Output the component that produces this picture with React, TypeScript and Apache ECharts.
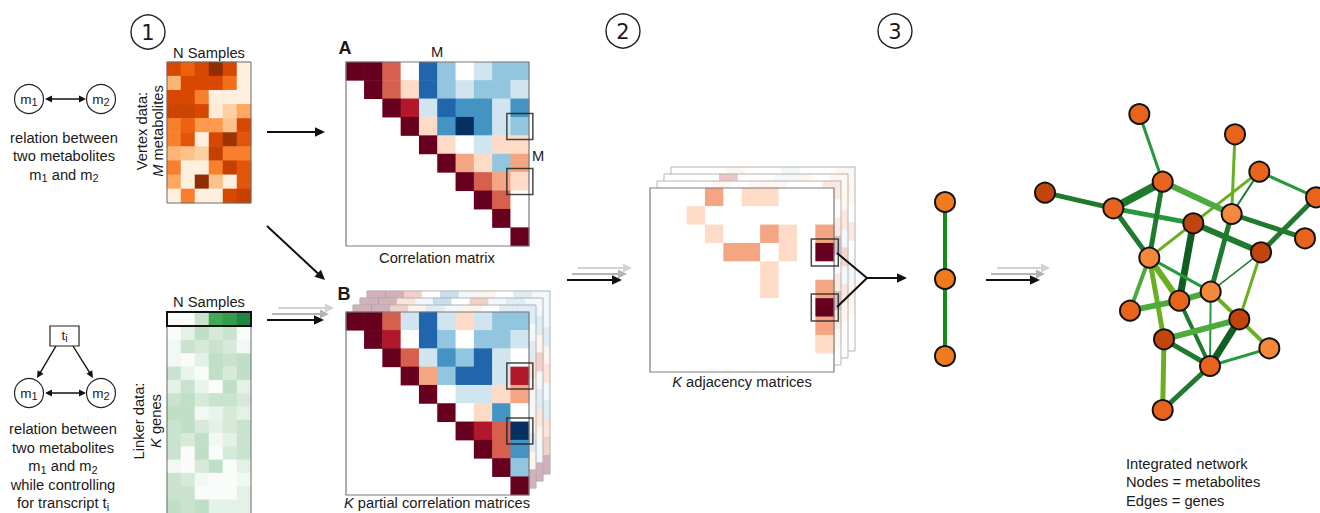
import React, { useEffect, useRef } from "react";
import * as echarts from "echarts";

// ---------------- DATA ----------------
const sampleLabels = ["S1", "S2", "S3", "S4", "S5", "S6"];
const metaboliteLabels = ["M1", "M2", "M3", "M4", "M5", "M6", "M7", "M8", "M9", "M10"];
const geneLabels = ["G1", "G2", "G3", "G4", "G5", "G6", "G7", "G8", "G9", "G10", "G11", "G12", "G13", "G14"];
const headerLabels = ["t"];

// vertex data (metabolites x samples), 0..1 intensity
const vertexValues: number[][] = [
  [0.75, 0.65, 0.75, 0.95, 0.75, 0.05],
  [0.35, 0.75, 0.75, 0.75, 0.6, 0.05],
  [0.75, 0.75, 0.55, 0.05, 0.05, 0.05],
  [0.78, 0.78, 0.75, 0.08, 0.25, 0.4],
  [0.55, 0.65, 0.45, 0.45, 0.3, 0.75],
  [0.55, 0.7, 0.05, 0.75, 0.9, 0.7],
  [0.35, 0.3, 0.25, 0.8, 0.55, 0.55],
  [0.55, 0.05, 0.05, 0.55, 0.8, 0.7],
  [0.4, 0.05, 0.95, 0.3, 0.05, 0.7],
  [0.05, 0.55, 0.05, 0.05, 0.75, 0.8],
];

// linker data: highlighted transcript row + genes x samples
const linkerHeaderValues: number[] = [0.02, 0.02, 0.2, 0.65, 0.75, 0.9];
const linkerValues: number[][] = [
  [0.02, 0.1, 0.25, 0.15, 0.2, 0.02],
  [0.05, 0.2, 0.15, 0.2, 0.15, 0.05],
  [0.05, 0.02, 0.1, 0.25, 0.2, 0.25],
  [0.2, 0.08, 0.02, 0.25, 0.15, 0.25],
  [0.1, 0.2, 0.08, 0.02, 0.25, 0.1],
  [0.2, 0.25, 0.15, 0.2, 0.2, 0.15],
  [0.25, 0.25, 0.05, 0.08, 0.15, 0.1],
  [0.2, 0.25, 0.15, 0.1, 0.15, 0.2],
  [0.2, 0.15, 0.25, 0.05, 0.1, 0.2],
  [0.2, 0.02, 0.25, 0.02, 0.15, 0.2],
  [0.05, 0.02, 0.15, 0.25, 0.02, 0.1],
  [0.2, 0.15, 0.05, 0.02, 0.02, 0.05],
  [0.2, 0.2, 0.02, 0.02, 0.02, 0.1],
  [0.25, 0.2, 0.25, 0.1, 0.1, 0.1],
];

const n = null;
// correlation matrix (upper triangle), -1..1
const correlationValues: (number | null)[][] = [
  [1, 1, 0.6, 0, -0.8, -0.4, 0, -0.2, -0.4, -0.4],
  [n, 1, 0.6, 0.2, -0.8, -0.4, -0.2, -0.4, -0.4, -0.2],
  [n, n, 1, 0.8, -0.2, -0.8, -0.6, -0.6, -0.2, -0.6],
  [n, n, n, 1, 0.2, -0.6, -1, -0.6, -0.2, -0.4],
  [n, n, n, n, 1, 0.2, 0, -0.2, 0.2, 0.2],
  [n, n, n, n, n, 1, 0.4, 0.2, -0.4, 0.4],
  [n, n, n, n, n, n, 1, 0.6, 0.4, 0.2],
  [n, n, n, n, n, n, n, 1, 0.6, 0],
  [n, n, n, n, n, n, n, n, 1, 0],
  [n, n, n, n, n, n, n, n, n, 1],
];

// partial correlation matrix (front one)
const partialValues: (number | null)[][] = [
  [1, 1, 0.6, -0.2, -0.8, -0.2, 0.2, -0.2, -0.4, -0.4],
  [n, 1, 0.8, 0, -0.8, -0.4, 0, -0.4, -0.4, -0.2],
  [n, n, 1, 0.6, -0.2, -0.6, -0.4, -0.8, -0.2, 0],
  [n, n, n, 1, 0.4, -0.4, -0.8, -0.8, -0.2, 0.8],
  [n, n, n, n, 1, 0, -0.2, -0.2, 0.2, 0.4],
  [n, n, n, n, n, 1, 0, 0.2, -0.6, 0],
  [n, n, n, n, n, n, 1, 0.8, 0.6, -1],
  [n, n, n, n, n, n, n, 1, 0.6, -0.6],
  [n, n, n, n, n, n, n, n, 1, -0.4],
  [n, n, n, n, n, n, n, n, n, 1],
];

// partially hidden partial-correlation matrices behind (visible top row / right column)
const partialBackTopRows: number[][] = [
  [1, 1, 0.6, 0.2, -0.4, -0.2, 0.2, 0, -0.4, -0.4],
  [1, 1, 0.4, -0.2, -0.6, 0, 0.6, -0.2, -0.4, -0.2],
  [1, 1, 0.6, 0, -0.6, -0.2, 0.2, 0, -0.4, -0.2],
];
const partialBackRightCols: number[][] = [
  [-0.2, -0.4, 0.4, 0.2, -0.2, 0.2, -0.4, 0.2, 1],
  [-0.4, 0.2, 0.6, -0.2, -0.4, 0.4, 0.2, -0.2, 1],
  [-0.2, -0.4, 0.2, 0.4, -0.2, -0.4, 0.4, 0.6, 1],
];

// adjacency matrix (front one)
const adjacencyValues: number[][] = [
  [0, 0, 0, 0.4, 0, 0.2, 0.2, 0, 0, 0],
  [0, 0, 0.2, 0, 0, 0, 0, 0, 0, 0],
  [0, 0, 0, 0.2, 0, 0, 0.4, 0.2, 0, 0.4],
  [0, 0, 0, 0, 0.4, 0.4, 0, 0.2, 0, 1],
  [0, 0, 0, 0, 0, 0, 0.2, 0, 0, 0],
  [0, 0, 0, 0, 0, 0, 0.2, 0, 0, 0.4],
  [0, 0, 0, 0, 0, 0, 0, 0, 0, 1],
  [0, 0, 0, 0, 0, 0, 0, 0, 0, 0.4],
  [0, 0, 0, 0, 0, 0, 0, 0, 0, 0.2],
  [0, 0, 0, 0, 0, 0, 0, 0, 0, 0],
];
const adjacencyBackTopRows: number[][] = [
  [0, 0, 0, 0.2, 0, 0.2, 0.2, 0, 0, 0.4],
  [0, 0, 0, 0.8, 0, 0, -0.2, 0.2, 0, 0.2],
  [0, 0, 0, 0.2, 0, 0, -0.2, 0, 0, 0.2],
];
const adjacencyBackRightCols: number[][] = [
  [0, 0.4, 1, 0, 0.4, 1, 0.4, 0.2, 0],
  [0.2, 0.4, -0.2, 0.6, -0.2, 0.4, 0.2, 0, 0],
  [0.2, 0, 0.4, 0, -0.2, 0.2, 0.2, 0, 0],
];

const highlightCells: number[][] = [
  [9, 3],
  [9, 6],
];

// integrated network
const netNodeX = [478, 765, 838, 1008, 195, 548, 400, 755, 640, 975, 843, 508, 692, 598, 450, 778, 552, 868, 690, 548];
const netNodeY = [72, 133, 245, 322, 308, 275, 355, 372, 400, 445, 487, 503, 605, 632, 662, 688, 748, 775, 828, 960];
const netNodeShade = [0, 0, 0, 0, 1, 0, 0, 2, 1, 0, 1, 2, 2, 0, 0, 1, 1, 2, 0, 0];
// [source, target, weight, shade]
const netEdges: number[][] = [
  [0, 5, 3, 2], [1, 7, 3, 4], [2, 11, 3, 4], [2, 7, 2, 1], [2, 3, 3, 2],
  [4, 6, 5, 1], [6, 5, 8, 1], [6, 8, 5, 2], [6, 11, 5, 1], [5, 11, 5, 1],
  [5, 7, 6, 3], [7, 9, 5, 1], [8, 10, 6, 1], [8, 13, 7, 0], [7, 12, 5, 1],
  [3, 10, 5, 1], [10, 12, 1.5, 1], [10, 15, 3, 4], [11, 12, 3, 2], [11, 14, 4, 3],
  [11, 16, 5, 4], [11, 13, 6, 4], [12, 13, 6, 3], [14, 13, 6, 3], [13, 18, 4, 1],
  [12, 18, 2, 2], [12, 15, 4, 4], [15, 17, 4, 4], [16, 15, 6, 3], [16, 18, 5, 1],
  [15, 18, 7, 0], [17, 18, 3, 2], [16, 19, 5, 4], [18, 19, 5, 1],
];

// single edge (two metabolites linked by one gene)
const chainNodeY = [0, 1, 2];
const chainEdges: number[][] = [
  [0, 1],
  [1, 2],
];

// ---------------- STYLE ----------------
const FONT = "'Liberation Sans', Arial, Helvetica, sans-serif";
const FS = 14.7;
const TXT = "#1a1a1a";
const RDBU = ["#053061", "#2166ac", "#4393c3", "#92c5de", "#d1e5f0", "#ffffff", "#fddbc7", "#f4a582", "#d6604d", "#b2182b", "#67001f"];
const ORANGES = ["#fff5eb", "#fee6ce", "#fdd0a2", "#fdae6b", "#fd8d3c", "#f16913", "#d94801", "#a63603", "#7f2704"];
const GREENS = ["#ffffff", "#c9e3ce", "#a6d1b0", "#4caf5c", "#2a9545", "#15763a"];
const NODE_COLORS = ["#e8631c", "#c2450e", "#f5883a"];
const EDGE_COLORS = ["#115e22", "#1f7a2e", "#26993a", "#4cab3c", "#6aae22"];

type Box = { x: number; y: number; w: number; h: number };
const LAYOUT: Record<string, Box> = {
  vertex: { x: 167, y: 62, w: 84, h: 141 },
  linkHead: { x: 167, y: 312, w: 84, h: 14 },
  linkBody: { x: 167, y: 327, w: 84, h: 194.6 },
  corrA: { x: 346, y: 62, w: 183, h: 184 },
  corrB: { x: 346, y: 312, w: 183, h: 183 },
  adj: { x: 650, y: 188, w: 184, h: 184 },
  net: { x: 980, y: 90, w: 340, h: 330 },
  chain: { x: 935, y: 202, w: 20, h: 154 },
};
const STACK = 7;

function toCells(m: (number | null)[][]) {
  const out: number[][] = [];
  m.forEach((row, r) => row.forEach((v, c) => { if (v !== null && v !== undefined) out.push([c, r, v]); }));
  return out;
}
function edgeCells(top: number[], right: number[]) {
  const out: number[][] = [];
  top.forEach((v, c) => out.push([c, 0, v]));
  right.forEach((v, i) => out.push([9, i + 1, v]));
  return out;
}

function txt(x: number, y: number, text: string, o: any = {}) {
  return {
    type: "text", x, y, z: 60, rotation: o.rotation || 0, silent: true,
    style: {
      text, fontSize: o.size || FS, fontFamily: o.family || FONT, fontWeight: o.weight || "normal",
      fontStyle: o.italic ? "italic" : "normal", fill: TXT, align: o.align || "center",
      verticalAlign: "middle", lineHeight: o.lh || 18.5, rich: o.rich,
    },
  };
}
function richSet(size: number, lh: number) {
  return {
    n: { fontSize: size, lineHeight: lh, fontFamily: FONT, fill: TXT },
    s: { fontSize: Math.round(size * 0.78), lineHeight: Math.round(size * 0.72), verticalAlign: "bottom", fontFamily: FONT, fill: TXT },
    i: { fontSize: size, lineHeight: lh, fontStyle: "italic", fontFamily: FONT, fill: TXT },
  };
}

function arrow(x1: number, y1: number, x2: number, y2: number, o: any = {}) {
  const color = o.color || "#111";
  const width = o.width || 2;
  const hl = o.hl || 10;
  const hw = o.hw || 4.8;
  const z = o.z || 40;
  const a = Math.atan2(y2 - y1, x2 - x1);
  const c = Math.cos(a), s = Math.sin(a);
  const head = (tx: number, ty: number, d: number) => {
    const cc = c * d, ss = s * d;
    const bx = tx - hl * cc, by = ty - hl * ss;
    return { type: "polygon", z, silent: true, shape: { points: [[tx, ty], [bx - hw * ss, by + hw * cc], [bx + hw * ss, by - hw * cc]] }, style: { fill: color } };
  };
  const sx = o.both ? x1 + hl * 0.7 * c : x1;
  const sy = o.both ? y1 + hl * 0.7 * s : y1;
  const els: any[] = [
    { type: "line", z, silent: true, shape: { x1: sx, y1: sy, x2: x2 - hl * 0.7 * c, y2: y2 - hl * 0.7 * s }, style: { stroke: color, lineWidth: width } },
    head(x2, y2, 1),
  ];
  if (o.both) els.push(head(x1, y1, -1));
  return els;
}
function stackedArrow(x1: number, x2: number, y: number) {
  return [
    ...arrow(x1 + 11, y - 12, x2 + 10, y - 12, { color: "#d2d2d2", width: 1.8, hl: 9, hw: 4.5, z: 38 }),
    ...arrow(x1 + 5, y - 6, x2 + 5, y - 6, { color: "#b4b4b4", width: 1.8, hl: 9, hw: 4.5, z: 39 }),
    ...arrow(x1, y, x2, y, { color: "#111", width: 2, hl: 10, hw: 4.8, z: 40 }),
  ];
}
function panel(b: Box, z: number, stroke = "#8a8a8a", lw = 1) {
  return [
    { type: "rect", z, silent: true, shape: { x: b.x, y: b.y, width: b.w, height: b.h }, style: { fill: "#fff", stroke: "none" } },
    { type: "rect", z: z + 2, silent: true, shape: { x: b.x, y: b.y, width: b.w, height: b.h }, style: { fill: "none", stroke, lineWidth: lw } },
  ];
}
function circ(cx: number, cy: number, r: number, lw = 1.2) {
  return { type: "circle", z: 55, silent: true, shape: { cx, cy, r }, style: { fill: "#fff", stroke: "#222", lineWidth: lw } };
}

export default function App() {
  const ref = useRef<HTMLDivElement>(null);
  useEffect(() => {
    document.body.style.margin = "0";
    const chart = echarts.init(ref.current!, null, { renderer: "svg" });

    const grids: any[] = [];
    const xAxes: any[] = [];
    const yAxes: any[] = [];
    const series: any[] = [];
    const rdbuSeries: number[] = [];
    const orangeSeries: number[] = [];
    const greenSeries: number[] = [];
    const graphics: any[] = [];

    const catGrid = (b: Box, cols: string[], rows: string[]) => {
      grids.push({ left: b.x, top: b.y, width: b.w, height: b.h, show: false });
      const gi = grids.length - 1;
      xAxes.push({ type: "category", gridIndex: gi, data: cols, show: false });
      yAxes.push({ type: "category", gridIndex: gi, data: rows, inverse: true, show: false });
      return gi;
    };
    const valGrid = (b: Box, xr: number[], yr: number[]) => {
      grids.push({ left: b.x, top: b.y, width: b.w, height: b.h, show: false });
      const gi = grids.length - 1;
      xAxes.push({ type: "value", gridIndex: gi, min: xr[0], max: xr[1], show: false });
      yAxes.push({ type: "value", gridIndex: gi, min: yr[0], max: yr[1], inverse: true, show: false });
      return gi;
    };
    const heat = (gi: number, data: number[][], z: number, list: number[], opacity = 1) => {
      series.push({
        type: "heatmap", xAxisIndex: gi, yAxisIndex: gi, data, z, silent: true,
        itemStyle: { opacity, borderWidth: 0 }, emphasis: { disabled: true },
      });
      list.push(series.length - 1);
    };
    const boxes = (gi: number, size: number, z: number) => {
      series.push({
        type: "scatter", xAxisIndex: gi, yAxisIndex: gi, data: highlightCells, symbol: "rect", symbolSize: size, z, silent: true,
        itemStyle: { color: "rgba(0,0,0,0)", borderColor: "#1a1a1a", borderWidth: 1.5 }, emphasis: { disabled: true },
      });
    };
    const idx10 = metaboliteLabels;

    // vertex data
    const gV = catGrid(LAYOUT.vertex, sampleLabels, metaboliteLabels);
    heat(gV, toCells(vertexValues), 5, orangeSeries);
    graphics.push({ type: "rect", z: 20, silent: true, shape: { x: LAYOUT.vertex.x, y: LAYOUT.vertex.y, width: LAYOUT.vertex.w, height: LAYOUT.vertex.h }, style: { fill: "none", stroke: "#6a6a6a", lineWidth: 1 } });

    // linker data
    const gH = catGrid(LAYOUT.linkHead, sampleLabels, headerLabels);
    heat(gH, linkerHeaderValues.map((v, c) => [c, 0, v]), 5, greenSeries);
    const gL = catGrid(LAYOUT.linkBody, sampleLabels, geneLabels);
    heat(gL, toCells(linkerValues), 5, greenSeries);
    graphics.push({ type: "rect", z: 20, silent: true, shape: { x: LAYOUT.linkBody.x, y: LAYOUT.linkBody.y - 1, width: LAYOUT.linkBody.w, height: LAYOUT.linkBody.h + 2 }, style: { fill: "none", stroke: "#6a6a6a", lineWidth: 1 } });
    graphics.push({ type: "rect", z: 21, silent: true, shape: { x: LAYOUT.linkHead.x, y: LAYOUT.linkHead.y, width: LAYOUT.linkHead.w, height: LAYOUT.linkHead.h }, style: { fill: "none", stroke: "#111", lineWidth: 2 } });

    // correlation matrix A
    graphics.push(...panel(LAYOUT.corrA, 10, "#7a7a7a", 1.2));
    const gA = catGrid(LAYOUT.corrA, idx10, idx10);
    heat(gA, toCells(correlationValues), 11, rdbuSeries);
    boxes(gA, 26, 14);

    // stacked partial correlation matrices B
    const offBox = (b: Box, k: number): Box => ({ x: b.x + STACK * k, y: b.y - STACK * k, w: b.w, h: b.h });
    for (let k = 3; k >= 1; k--) {
      const bb = offBox(LAYOUT.corrB, k);
      const base = (3 - k) * 3 + 1;
      graphics.push(...panel(bb, base, "#b5b5b5", 1));
      const gi = catGrid(bb, idx10, idx10);
      heat(gi, edgeCells(partialBackTopRows[k - 1], partialBackRightCols[k - 1]), base + 1, rdbuSeries, 0.3);
    }
    graphics.push(...panel(LAYOUT.corrB, 10, "#7a7a7a", 1.2));
    const gB = catGrid(LAYOUT.corrB, idx10, idx10);
    heat(gB, toCells(partialValues), 11, rdbuSeries);
    boxes(gB, 26, 14);

    // stacked adjacency matrices
    for (let k = 3; k >= 1; k--) {
      const bb = offBox(LAYOUT.adj, k);
      const base = (3 - k) * 3 + 1;
      graphics.push(...panel(bb, base, "#b5b5b5", 1));
      const gi = catGrid(bb, idx10, idx10);
      heat(gi, edgeCells(adjacencyBackTopRows[k - 1], adjacencyBackRightCols[k - 1]), base + 1, rdbuSeries, 0.25);
    }
    graphics.push(...panel(LAYOUT.adj, 10, "#7a7a7a", 1.2));
    const gAdj = catGrid(LAYOUT.adj, idx10, idx10);
    heat(gAdj, toCells(adjacencyValues), 11, rdbuSeries);
    boxes(gAdj, 27, 14);

    // single gene edge
    const gC = valGrid(LAYOUT.chain, [-1, 1], [0, 2]);
    series.push({
      type: "graph", coordinateSystem: "cartesian2d", xAxisIndex: gC, yAxisIndex: gC, z: 30, silent: true,
      symbolSize: 20, emphasis: { disabled: true },
      itemStyle: { color: "#f07a1e", borderColor: "#111", borderWidth: 2 },
      lineStyle: { color: "#178a1e", width: 4, opacity: 1 },
      data: chainNodeY.map((y) => ({ value: [0, y] })),
      links: chainEdges.map(([s, t]) => ({ source: s, target: t })),
    });

    // integrated network
    const gN = valGrid(LAYOUT.net, [0, 1020], [0, 990]);
    series.push({
      type: "graph", coordinateSystem: "cartesian2d", xAxisIndex: gN, yAxisIndex: gN, z: 30, silent: true,
      symbolSize: 20, emphasis: { disabled: true },
      data: netNodeX.map((x, i) => ({ value: [x, netNodeY[i]], itemStyle: { color: NODE_COLORS[netNodeShade[i]], borderColor: "#111", borderWidth: 2 } })),
      links: netEdges.map(([s, t, w, sh]) => ({ source: s, target: t, lineStyle: { width: w, color: EDGE_COLORS[sh], opacity: 1 } })),
    });

    // ---------- annotations ----------
    const r14 = richSet(FS, 18.5);
    const r13 = richSet(13.5, 16);
    // circled step numbers
    [[148, 32, "1"], [623, 31, "2"], [895, 31, "3"]].forEach(([x, y, t]: any) => {
      graphics.push(circ(x, y, 17, 1.4));
      graphics.push(txt(x, y + 1, t, { size: 21, family: "'DejaVu Sans', Verdana, sans-serif" }));
    });

    // top-left relation diagram
    graphics.push(...arrow(45, 99, 86, 99, { both: true, width: 1.6, hl: 7, hw: 3.6 }));
    graphics.push(circ(29, 99, 14.5), circ(101, 99, 14.5));
    graphics.push(txt(29, 99, "{n|m}{s|1}", { size: 13.5, rich: r13 }));
    graphics.push(txt(101, 99, "{n|m}{s|2}", { size: 13.5, rich: r13 }));
    graphics.push(txt(64, 156, "relation between\ntwo metabolites\n{n|m}{s|1}{n| and m}{s|2}", { rich: r14 }));

    // bottom-left relation diagram
    graphics.push({ type: "rect", z: 55, silent: true, shape: { x: 50, y: 326, width: 29, height: 20 }, style: { fill: "#fff", stroke: "#222", lineWidth: 1.2 } });
    graphics.push(txt(64.5, 335, "{n|t}{s|i}", { size: 13.5, rich: r13 }));
    graphics.push(...arrow(56, 346, 37, 378, { width: 1.4, hl: 7, hw: 3.4 }));
    graphics.push(...arrow(73, 346, 93, 378, { width: 1.4, hl: 7, hw: 3.4 }));
    graphics.push(...arrow(45, 393, 86, 393, { both: true, width: 1.6, hl: 7, hw: 3.6 }));
    graphics.push(circ(29, 393, 14.5), circ(101, 393, 14.5));
    graphics.push(txt(29, 393, "{n|m}{s|1}", { size: 13.5, rich: r13 }));
    graphics.push(txt(101, 393, "{n|m}{s|2}", { size: 13.5, rich: r13 }));
    graphics.push(txt(63, 466, "relation between\ntwo metabolites\n{n|m}{s|1}{n| and m}{s|2}\nwhile controlling\n{n|for transcript t}{s|i}", { rich: r14 }));

    // matrix labels
    graphics.push(txt(209, 53, "N Samples"));
    graphics.push(txt(209, 302, "N Samples"));
    graphics.push(txt(142, 131, "Vertex data:", { rotation: Math.PI / 2 }));
    graphics.push(txt(158, 131, "{i|M}{n| metabolites}", { rotation: Math.PI / 2, rich: r14 }));
    graphics.push(txt(139, 421, "Linker data:", { rotation: Math.PI / 2 }));
    graphics.push(txt(156, 421, "{i|K}{n| genes}", { rotation: Math.PI / 2, rich: r14 }));
    graphics.push(txt(345, 48, "A", { size: 18, weight: "bold", family: "'Liberation Sans', Arial, sans-serif" }));
    graphics.push(txt(344, 294, "B", { size: 18, weight: "bold", family: "'Liberation Sans', Arial, sans-serif" }));
    graphics.push(txt(437, 52, "M"));
    graphics.push(txt(538, 156, "M"));
    graphics.push(txt(437, 258, "Correlation matrix"));
    graphics.push(txt(437, 503, "{i|K}{n| partial correlation matrices}", { rich: r14 }));
    graphics.push(txt(742, 382, "{i|K}{n| adjacency matrices}", { rich: r14 }));
    graphics.push(txt(1126, 482, "Integrated network\nNodes = metabolites\nEdges = genes", { align: "left" }));

    // flow arrows
    graphics.push(...arrow(267, 132, 325, 132));
    graphics.push(...arrow(267, 226, 325, 280));
    graphics.push(...stackedArrow(267, 324, 320));
    graphics.push(...stackedArrow(567, 622, 280));
    graphics.push(...stackedArrow(986, 1040, 280));
    graphics.push({ type: "polyline", z: 40, silent: true, shape: { points: [[837, 253], [867, 278], [837, 307]] }, style: { stroke: "#111", lineWidth: 2, fill: "none" } });
    graphics.push(...arrow(866, 278, 907, 278));

    chart.setOption({
      animation: false,
      backgroundColor: "#fff",
      grid: grids,
      xAxis: xAxes,
      yAxis: yAxes,
      visualMap: [
        { type: "continuous", show: false, min: -1, max: 1, seriesIndex: rdbuSeries, inRange: { color: RDBU } },
        { type: "continuous", show: false, min: 0, max: 1, seriesIndex: orangeSeries, inRange: { color: ORANGES } },
        { type: "continuous", show: false, min: 0, max: 1, seriesIndex: greenSeries, inRange: { color: GREENS } },
      ],
      series,
      graphic: { elements: graphics },
    });
    return () => chart.dispose();
  }, []);
  return <div ref={ref} style={{ width: 1320, height: 513 }} />;
}
